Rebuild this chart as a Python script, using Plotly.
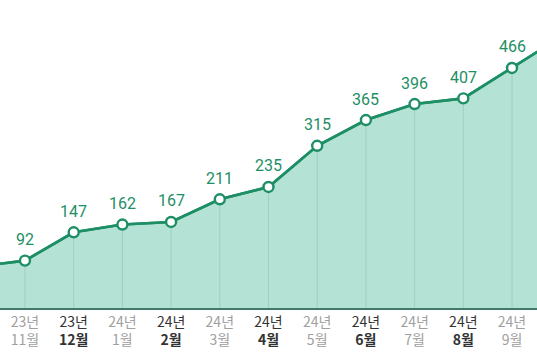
import plotly.graph_objects as go

# Month categories (first and last are just outside the visible window)
years = ["23년", "23년", "23년", "24년", "24년", "24년", "24년", "24년", "24년", "24년", "24년", "24년", "24년"]
months = ["10월", "11월", "12월", "1월", "2월", "3월", "4월", "5월", "6월", "7월", "8월", "9월", "10월"]
values = [80, 92, 147, 162, 167, 211, 235, 315, 365, 396, 407, 466, 526]
emphasis = [False, False, True, False, True, False, True, False, True, False, True, False, True]

xs = list(range(-1, len(values) - 1))

LINE = "#1e8f65"
FILL = "#b4e3d5"
GRID = "#9fcfc0"

fig = go.Figure()

# filled area + line
fig.add_trace(go.Scatter(
    x=xs, y=values, mode="lines", fill="tozeroy",
    fillcolor=FILL, line=dict(color=LINE, width=2.6),
    hoverinfo="skip", showlegend=False,
))

# vertical guides inside the area
gx, gy = [], []
for x, v in zip(xs, values):
    gx += [x, x, None]
    gy += [0, v, None]
fig.add_trace(go.Scatter(
    x=gx, y=gy, mode="lines", line=dict(color=GRID, width=1),
    hoverinfo="skip", showlegend=False,
))

# line again on top, with markers
fig.add_trace(go.Scatter(
    x=xs, y=values, mode="lines+markers",
    line=dict(color=LINE, width=2.6),
    marker=dict(size=10, color="white", line=dict(color=LINE, width=2.4)),
    hoverinfo="skip", showlegend=False,
))

# value labels (only visible months)
for x, v in zip(xs[1:-1], values[1:-1]):
    fig.add_annotation(
        x=x, y=v, text=str(v), showarrow=False, yshift=21,
        font=dict(family="Roboto", size=16, color=LINE),
    )

ticktext = []
for y, m, e in zip(years, months, emphasis):
    if e:
        ticktext.append(f"<span style='color:#333333'>{y}<br><b>{m}</b></span>")
    else:
        ticktext.append(f"<span style='color:#a0a0a0'>{y}<br>{m}</span>")

fig.update_layout(
    width=537, height=360,
    margin=dict(l=0, r=0, t=0, b=52, autoexpand=False),
    plot_bgcolor="white", paper_bgcolor="white",
    hovermode=False,
    xaxis=dict(
        range=[-0.513, 10.513], tickmode="array", tickvals=xs[1:-1], ticktext=ticktext[1:-1],
        showgrid=False, zeroline=False, showline=True, linecolor="#3f7a6b", linewidth=1.6,
        ticks="", tickfont=dict(family="Noto Sans CJK KR", size=14, color="#a0a0a0"),
        automargin=False, fixedrange=True,
    ),
    yaxis=dict(range=[0, 598], visible=False, showgrid=False, zeroline=False,
               automargin=False, fixedrange=True),
)

fig.write_html("out.html", config={"displayModeBar": False},
               post_script="document.body.style.margin='0px';")
